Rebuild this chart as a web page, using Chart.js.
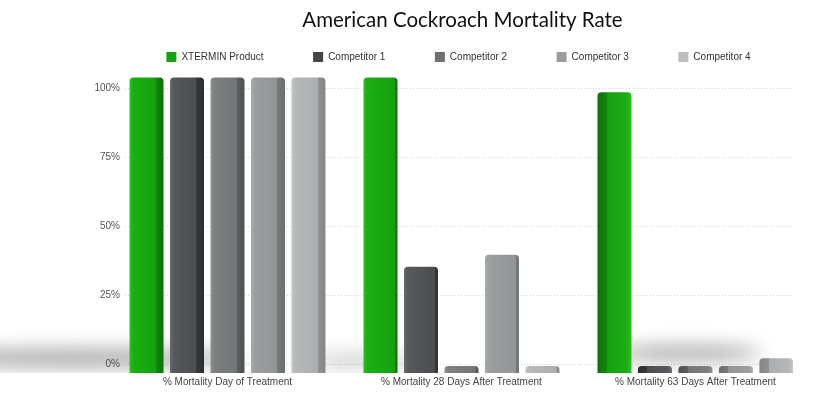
<!DOCTYPE html>
<html>
<head>
<meta charset="utf-8">
<script src="https://cdn.jsdelivr.net/npm/chart.js@4/dist/chart.umd.min.js"></script>
<style>
  html, body { margin: 0; padding: 0; background: #ffffff; }
  #wrap { width: 831px; height: 398px; position: relative; }
</style>
</head>
<body>
<div id="wrap"><canvas id="c"></canvas></div>
<script>
// ---- data ----
const categories = ['% Mortality Day of Treatment', '% Mortality 28 Days After Treatment', '% Mortality 63 Days After Treatment'];
const seriesNames = ['XTERMIN Product', 'Competitor 1', 'Competitor 2', 'Competitor 3', 'Competitor 4'];
const xterminValues = [100, 100, 95];
const competitor1Values = [100, 36, 0];
const competitor2Values = [100, 0, 0];
const competitor3Values = [100, 40, 0];
const competitor4Values = [100, 0, 5];
const yTickValues = [0, 25, 50, 75, 100];

// ---- styles ----
const legendColors = ['#14a411', '#434548', '#6e7173', '#9a9d9f', '#bcbfbf'];
const barStyles = [
  { light: '#27c21c', front: '#1aae12', frontDark: '#17a010', side: '#13870d', sideDark: '#0f6f0a' },
  { light: '#676b6d', front: '#55595b', frontDark: '#4a4e50', side: '#35393a', sideDark: '#2b2e2f' },
  { light: '#8d9192', front: '#7c8081', frontDark: '#727677', side: '#5a5e5f', sideDark: '#4d5152' },
  { light: '#a9adae', front: '#9a9e9f', frontDark: '#919596', side: '#767a7b', sideDark: '#6a6e6f' },
  { light: '#c4c8c8', front: '#b4b8b8', frontDark: '#abafaf', side: '#8e9292', sideDark: '#828686' }
];
const sideByCategory = [ { frac: 0.22, where: 'right' }, { frac: 0.08, where: 'right' }, { frac: 0.27, where: 'left' } ];
const shadowByCategory = [
  { dx: -150, dy: -15, rx: 165, ry: 10, alpha: 0.40 },
  { dx: -100, dy: -12, rx: 60, ry: 8, alpha: 0.22 },
  { dx: -8, dy: -20, rx: 75, ry: 8, alpha: 0.42 }
];
const titleShift = 8;

const allSeries = [xterminValues, competitor1Values, competitor2Values, competitor3Values, competitor4Values];

const barShade = {
  id: 'barShade',
  afterLayout(chart) {
    if (chart.titleBlock) { chart.titleBlock.left += titleShift; }
  },
  beforeDatasetsDraw(chart) {
    const { ctx } = chart;
    const xs = chart.scales.x;
    const yb = chart.scales.yb;
    const baseY = yb.getPixelForValue(0);
    // soft shadows on the floor
    ctx.save();
    ctx.beginPath();
    ctx.rect(0, 0, chart.width, baseY);
    ctx.clip();
    ctx.filter = 'blur(9px)';
    categories.forEach((c, i) => {
      const s = shadowByCategory[i];
      const cx = xs.getPixelForValue(i) + s.dx;
      ctx.fillStyle = 'rgba(60,60,60,' + s.alpha + ')';
      ctx.beginPath();
      ctx.ellipse(cx, baseY + s.dy, s.rx, s.ry, 0, 0, Math.PI * 2);
      ctx.fill();
    });
    ctx.restore();
    // 3D-ish gradients on bars
    chart.data.datasets.forEach((ds, di) => {
      const meta = chart.getDatasetMeta(di);
      const st = barStyles[di];
      meta.data.forEach((el, i) => {
        const p = el.getProps(['x', 'width'], true);
        const l = p.x - p.width / 2, r = p.x + p.width / 2;
        const g = ctx.createLinearGradient(l, 0, r, 0);
        const sd = sideByCategory[i];
        const f = sd.frac;
        if (sd.where === 'right') {
          g.addColorStop(0, st.light);
          g.addColorStop(0.12, st.front);
          g.addColorStop(Math.max(0.13, 1 - f - 0.01), st.frontDark);
          g.addColorStop(1 - f, st.side);
          g.addColorStop(1, st.sideDark);
        } else {
          g.addColorStop(0, st.sideDark);
          g.addColorStop(f, st.side);
          g.addColorStop(f + 0.01, st.frontDark);
          g.addColorStop(0.85, st.front);
          g.addColorStop(1, st.light);
        }
        el.options.backgroundColor = g;
      });
    });
  }
};

const datasets = seriesNames.map((name, di) => ({
  label: name,
  data: allSeries[di].map((v, i) => ({ x: i, y: v })),
  yAxisID: 'yb',
  backgroundColor: (ctx) => legendColors[ctx.datasetIndex],
  borderWidth: 0,
  borderRadius: { topLeft: 4, topRight: 4, bottomLeft: 0, bottomRight: 0 },
  borderSkipped: false,
  minBarLength: 7,
  categoryPercentage: 0.865,
  barPercentage: 0.84
}));

const font = "'Liberation Sans', Arial, Helvetica, sans-serif";

new Chart(document.getElementById('c'), {
  type: 'bar',
  data: { datasets },
  options: {
    responsive: true,
    maintainAspectRatio: false,
    animation: false,
    layout: { padding: { left: 86, right: 0, top: 0, bottom: 7 } },
    plugins: {
      title: {
        display: true,
        text: 'American Cockroach Mortality Rate',
        color: '#111111',
        font: { family: "Lato, 'Open Sans', sans-serif", size: 20.5, weight: 'normal', lineHeight: 1.2 },
        padding: { top: 8, bottom: -30 }
      },
      legend: {
        display: true,
        labels: {
          font: { family: font, size: 10 },
          color: '#333333',
          boxWidth: 10,
          boxHeight: 10,
          padding: 49.5
        }
      },
      tooltip: { enabled: false }
    },
    scales: {
      x: {
        type: 'linear',
        offset: false,
        min: -0.438,
        max: 2.417,
        grid: { display: false, drawTicks: false, offset: false },
        border: { display: false },
        afterBuildTicks: (scale) => { scale.ticks = categories.map((c, i) => ({ value: i })); },
        ticks: {
          padding: 3,
          autoSkip: false,
          maxRotation: 0,
          color: '#444444',
          font: { family: font, size: 10 },
          callback: (v) => categories[v] ?? ''
        }
      },
      y: {
        position: 'left',
        min: -3.26,
        max: 105.98,
        afterBuildTicks: (scale) => { scale.ticks = yTickValues.map(v => ({ value: v })); },
        afterFit: (scale) => { scale.width = 39; },
        grid: { color: '#d4d4d4', lineWidth: 1, drawTicks: false },
        border: { display: false, dash: [1, 2] },
        ticks: {
          padding: 5,
          color: '#555555',
          font: { family: font, size: 10 },
          callback: (v) => v + '%'
        }
      },
      yb: {
        display: true,
        position: 'right',
        min: 0,
        max: 101.86,
        afterFit: (scale) => { scale.width = 38; },
        grid: { display: false, drawTicks: false },
        border: { display: false },
        ticks: { display: false }
      }
    }
  },
  plugins: [barShade]
});
</script>
</body>
</html>
